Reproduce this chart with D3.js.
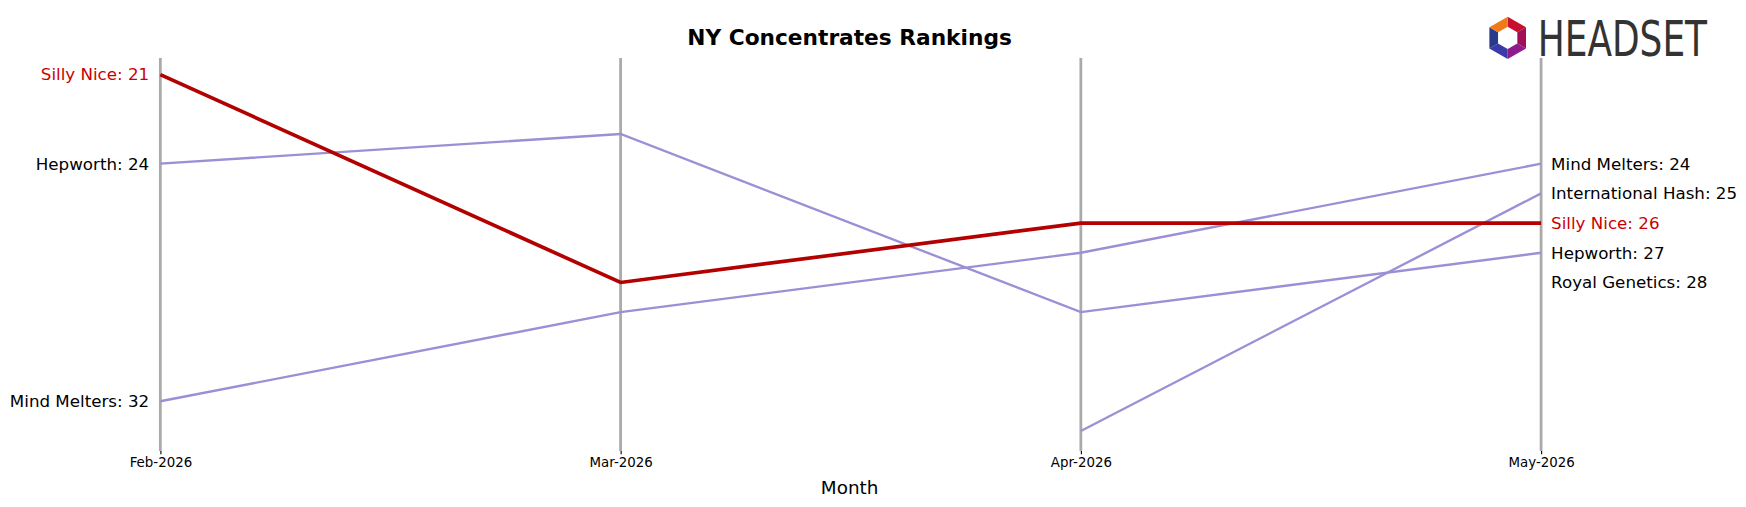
<!DOCTYPE html><html><head><meta charset="utf-8">
<script src="https://cdn.jsdelivr.net/npm/d3@7/dist/d3.min.js"></script>
<style>body{margin:0;background:#fff}</style></head><body><svg id="c" width="1746" height="507"></svg>
<script>
const months=["Feb-2026","Mar-2026","Apr-2026","May-2026"];
const brands=["Silly Nice","Hepworth","Mind Melters","International Hash","Royal Genetics"];
const ranks=[[21,28,26,26],[24,23,29,27],[32,29,27,24],[null,null,33,25],[null,null,null,28]];
const highlight="Silly Nice";
(function(){
const svg=d3.select("#c").append("g").attr("transform","scale(1.1135)");
const x=d3.scalePoint().domain(months).range([144,1384]);
const y=d3.scaleLinear().domain([21,33]).range([67,387]);
const yTop=52,yBot=405;
months.forEach(m=>{svg.append("line").attr("x1",x(m)).attr("x2",x(m)).attr("y1",yTop).attr("y2",yBot).attr("stroke","#aaa").attr("stroke-width",2.5);});
const ax=svg.append("g").attr("transform",`translate(0,${yBot})`).call(d3.axisBottom(x).tickSize(3));
ax.select(".domain").remove();
ax.selectAll("text").attr("font-family","DejaVu Sans").attr("font-size",12).attr("fill","#000");
svg.append("text").attr("x",763).attr("y",444).attr("text-anchor","middle").attr("font-family","DejaVu Sans").attr("font-size",16.5).text("Month");
svg.append("text").attr("x",763).attr("y",40).attr("text-anchor","middle").attr("font-family","DejaVu Sans").attr("font-weight","bold").attr("font-size",19.5).text("NY Concentrates Rankings");
const line=d3.line().defined(d=>d.r!=null).x(d=>x(d.m)).y(d=>y(d.r));
const order=brands.map((b,i)=>i).sort((a,b)=>(brands[a]===highlight)-(brands[b]===highlight));
order.forEach(i=>{const b=brands[i],hl=b===highlight;
 const pts=months.map((m,j)=>({m,r:ranks[i][j]}));
 svg.append("path").attr("d",line(pts)).attr("fill","none").attr("stroke",hl?"#b30000":"#9b8fd6").attr("stroke-width",hl?3.3:2.1);
});
brands.forEach((b,i)=>{const hl=b===highlight,c=hl?"#cc0000":"#000";
 const f=ranks[i][0];
 if(f!=null) svg.append("text").attr("x",134).attr("y",y(f)).attr("dy","0.35em").attr("text-anchor","end").attr("font-family","DejaVu Sans").attr("font-size",15).attr("fill",c).text(`${b}: ${f}`);
 const l=ranks[i][3];
 if(l!=null) svg.append("text").attr("x",1393).attr("y",y(l)).attr("dy","0.35em").attr("font-family","DejaVu Sans").attr("font-size",15).attr("fill",c).text(`${b}: ${l}`);
});
const g=svg.append("g").attr("transform","translate(1354,34)");
const cols=["#c8102e","#a0105a","#8e1a8c","#3a3aa8","#2a3a8a","#f07a1a"];
for(let k=0;k<6;k++){const a0=(k*60-90)*Math.PI/180,a1=((k+1)*60-90)*Math.PI/180;
 g.append("path").attr("d",`M${19*Math.cos(a0)},${19*Math.sin(a0)}L${19*Math.cos(a1)},${19*Math.sin(a1)}L${10*Math.cos(a1)},${10*Math.sin(a1)}L${10*Math.cos(a0)},${10*Math.sin(a0)}Z`).attr("fill",cols[k]);}
svg.append("text").attr("x",1381).attr("y",50).attr("font-family","Liberation Sans Narrow, DejaVu Sans Condensed").attr("font-size",44).attr("fill","#333").attr("textLength",152).attr("lengthAdjust","spacingAndGlyphs").text("HEADSET");
})();
</script></body></html>
